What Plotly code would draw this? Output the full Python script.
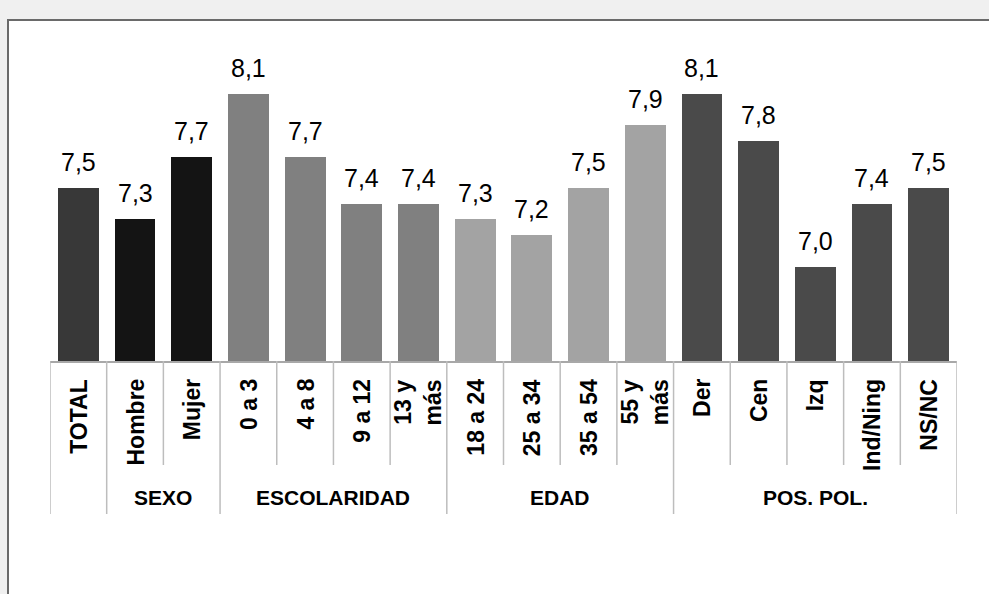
import plotly.graph_objects as go

categories = ["TOTAL", "Hombre", "Mujer", "0 a 3", "4 a 8", "9 a 12", "13 y<br>más",
              "18 a 24", "25 a 34", "35 a 54", "55 y<br>más",
              "Der", "Cen", "Izq", "Ind/Ning", "NS/NC"]
values = [7.5, 7.3, 7.7, 8.1, 7.7, 7.4, 7.4, 7.3, 7.2, 7.5, 7.9, 8.1, 7.8, 7.0, 7.4, 7.5]
groups = ["", "SEXO", "SEXO", "ESCOLARIDAD", "ESCOLARIDAD", "ESCOLARIDAD", "ESCOLARIDAD",
          "EDAD", "EDAD", "EDAD", "EDAD",
          "POS. POL.", "POS. POL.", "POS. POL.", "POS. POL.", "POS. POL."]
group_colors = {"": "#383838", "SEXO": "#141414", "ESCOLARIDAD": "#808080",
                "EDAD": "#a3a3a3", "POS. POL.": "#4a4a4a"}

W, H = 989, 594
ML, MR, MT, MB = 50, 32, 20, 233
plot_h = H - MT - MB
ymin = 6.4
ymax = ymin + plot_h / 157.3

def py(pix):
    # pixel row -> paper y
    return (H - MB - pix) / plot_h

def px(pix):
    return (pix - ML) / (W - ML - MR)

idx = list(range(len(categories)))
colors = [group_colors[g] for g in groups]

fig = go.Figure()
fig.add_trace(go.Bar(x=idx, y=values, marker=dict(color=colors, line=dict(width=0)),
                     width=0.72, hoverinfo="skip"))

shapes = []
# white panel with border (left/top visible)
shapes.append(dict(type="rect", xref="paper", yref="paper", x0=px(8), x1=px(1100),
                   y0=py(700), y1=py(20), fillcolor="white",
                   line=dict(color="#6a6a6a", width=2), layer="below"))

# separators
n = len(categories)
for b in range(n + 1):
    if b == 0 or b == n:
        long = True
    else:
        long = groups[b] != groups[b - 1]
    shapes.append(dict(type="line", xref="x", yref="paper", x0=b - 0.5, x1=b - 0.5,
                       y0=0, y1=py(514 if long else 465),
                       line=dict(color="#bdbdbd", width=1.5)))

annotations = []
for i, v in enumerate(values):
    annotations.append(dict(x=i, y=v, xref="x", yref="y", text=f"{v:.1f}".replace(".", ","),
                            showarrow=False, yanchor="bottom", yshift=10,
                            font=dict(family="Liberation Sans, Arial", size=25, color="black")))
    annotations.append(dict(x=i, y=py(377), xref="x", yref="paper", text=f"<b>{categories[i]}</b>",
                            showarrow=False, textangle=-90, yanchor="top", align="center",
                            font=dict(family="Liberation Sans, Arial", size=23, color="black")))

# group labels
start = 0
for i in range(1, n + 1):
    if i == n or groups[i] != groups[start]:
        if groups[start]:
            annotations.append(dict(x=(start + i - 1) / 2, y=py(497), xref="x", yref="paper",
                                    text=f"<b>{groups[start]}</b>", showarrow=False,
                                    yanchor="middle",
                                    font=dict(family="Liberation Sans, Arial", size=21, color="black")))
        start = i

fig.update_layout(
    width=W, height=H,
    margin=dict(l=ML, r=MR, t=MT, b=MB, pad=0),
    paper_bgcolor="#f0f0f0", plot_bgcolor="white",
    showlegend=False,
    bargap=0,
    xaxis=dict(range=[-0.5, n - 0.5], showticklabels=False, showgrid=False, zeroline=False,
               showline=True, linecolor="#a8a8a8", linewidth=1.5, ticks="", fixedrange=True),
    yaxis=dict(range=[ymin, ymax], visible=False, showgrid=False, zeroline=False, fixedrange=True),
    shapes=shapes,
    annotations=annotations,
)

fig.write_html("out.html", config={"displayModeBar": False},
               post_script="document.body.style.margin='0';document.body.style.overflow='hidden';")
